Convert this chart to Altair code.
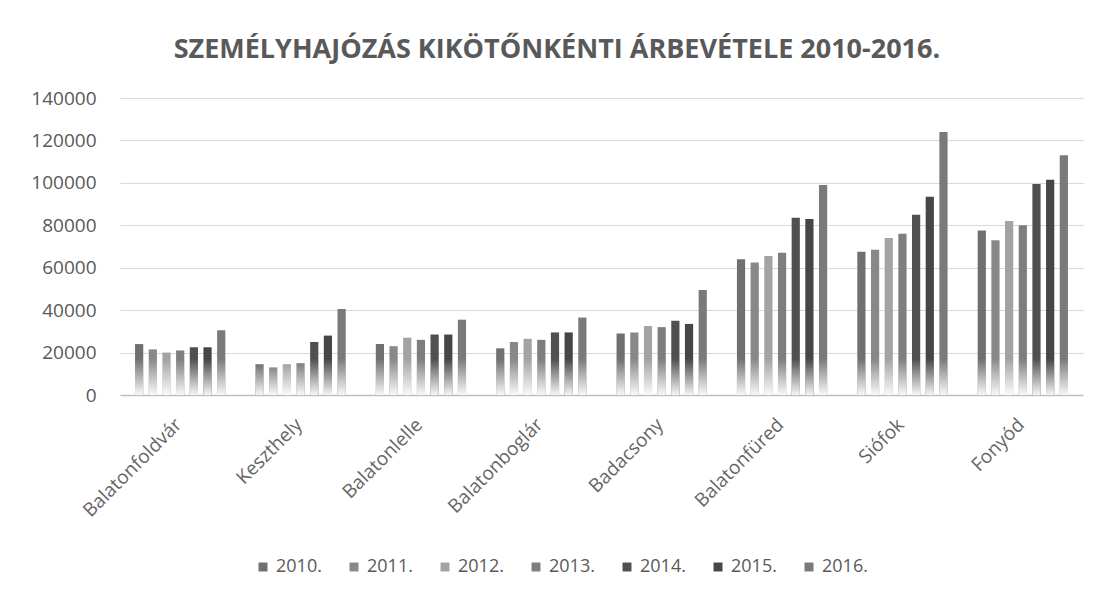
import altair as alt
import pandas as pd

places = ["Balatonfoldvár", "Keszthely", "Balatonlelle", "Balatonboglár",
          "Badacsony", "Balatonfüred", "Siófok", "Fonyód"]
years = ["2010.", "2011.", "2012.", "2013.", "2014.", "2015.", "2016."]

v2010 = [24000, 14500, 24000, 22000, 29000, 64000, 67500, 77500]
v2011 = [21500, 13000, 23000, 25000, 29500, 62500, 68500, 73000]
v2012 = [20000, 14500, 27000, 26500, 32500, 65500, 74000, 82000]
v2013 = [21000, 15000, 26000, 26000, 32000, 67000, 76000, 80000]
v2014 = [22500, 25000, 28500, 29500, 35000, 83500, 85000, 99500]
v2015 = [22500, 28000, 28500, 29500, 33500, 83000, 93500, 101500]
v2016 = [30500, 40500, 35500, 36500, 49500, 99000, 124000, 113000]

colors = ["#707070", "#888888", "#a3a3a3", "#7e7e7e", "#505050", "#464646", "#7a7a7a"]

series = [v2010, v2011, v2012, v2013, v2014, v2015, v2016]
rows = []
for y, vals in zip(years, series):
    for p, v in zip(places, vals):
        rows.append({"place": p, "year": y, "value": v})
df = pd.DataFrame(rows)

FONT = "Open Sans"
GREY = "#595959"

x_enc = alt.X("place:N", sort=places,
              scale=alt.Scale(paddingInner=0.25, paddingOuter=0.125),
              axis=alt.Axis(title=None, labelAngle=-45, labelFontSize=19, labelColor="#666666",
                            labelFont=FONT, labelPadding=20, labelOffset=-8, ticks=False,
                            domain=True, domainColor="#bfbfbf", domainWidth=1.5, grid=False))
xo_enc = alt.XOffset("year:N", sort=years, scale=alt.Scale(paddingInner=0.4, paddingOuter=0))

bars = alt.Chart(df).mark_bar().encode(
    x=x_enc,
    xOffset=xo_enc,
    y=alt.Y("value:Q", scale=alt.Scale(domain=[0, 140000]),
            axis=alt.Axis(title=None, values=list(range(0, 140001, 20000)), format="d",
                          labelFontSize=19, labelColor=GREY, labelFont=FONT, labelPadding=24,
                          ticks=False, domain=False, grid=True, gridColor="#d9d9d9")),
    color=alt.Color("year:N", sort=years,
                    scale=alt.Scale(domain=years, range=colors),
                    legend=alt.Legend(title=None, orient="none", direction="horizontal",
                                      legendX=134, legendY=460, columns=7,
                                      symbolType="square", symbolSize=80,
                                      labelFontSize=18, labelFont=FONT, labelColor=GREY,
                                      columnPadding=23, symbolOpacity=1)),
)

fade = alt.Chart(df).transform_calculate(
    fade="min(datum.value, 17000)"
).mark_bar(
    color=alt.LinearGradient(
        gradient="linear", x1=0, x2=0, y1=0, y2=1,
        stops=[alt.GradientStop(color="rgba(255,255,255,0)", offset=0),
               alt.GradientStop(color="rgba(255,255,255,0.95)", offset=1)])
).encode(
    x=alt.X("place:N", sort=places),
    xOffset=alt.XOffset("year:N", sort=years),
    y=alt.Y("fade:Q"),
)

chart = alt.layer(bars, fade).properties(
    width=963, height=297,
    title=alt.TitleParams("SZEMÉLYHAJÓZÁS KIKÖTŐNKÉNTI ÁRBEVÉTELE 2010-2016.",
                          fontSize=27, font=FONT, fontWeight="bold", color=GREY,
                          anchor="middle", frame="bounds", offset=25),
    padding={"left": 22, "top": 28, "right": 10, "bottom": 5},
).configure_view(stroke=None)

chart.save("out.html", embed_options={"renderer": "svg", "actions": False})
